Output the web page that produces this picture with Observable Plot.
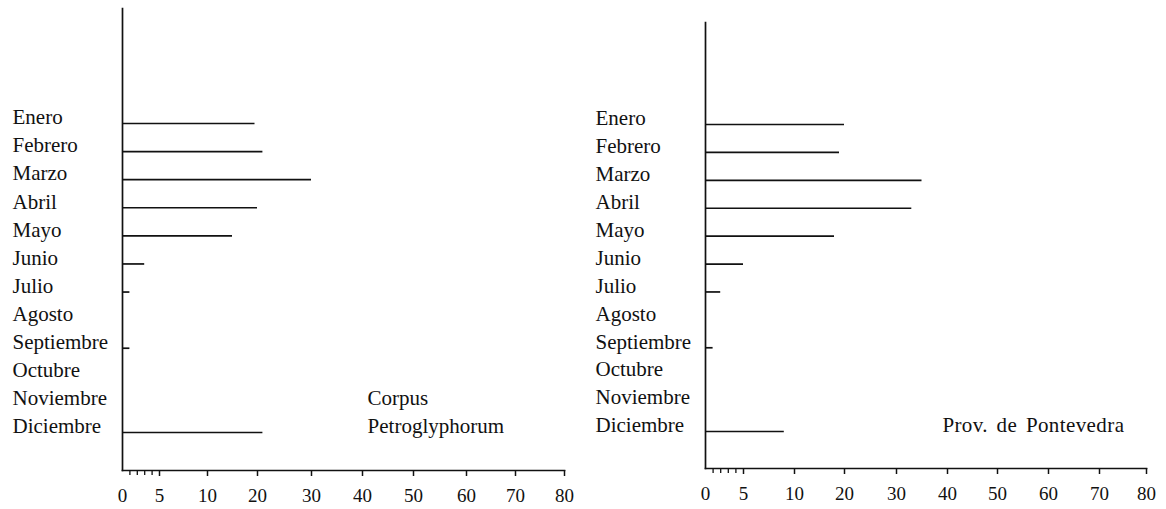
<!DOCTYPE html>
<html>
<head>
<meta charset="utf-8">
<script src="https://cdn.jsdelivr.net/npm/d3@7"></script>
<script src="https://cdn.jsdelivr.net/npm/@observablehq/plot@0.6"></script>
<style>
  body { margin: 0; background: #fff; overflow: hidden; }
  #wrap { display: flex; align-items: flex-start; width: 1166px; height: 509px; }
  #wrap svg { display: block; flex: none; width: 583px; height: 509px; max-width: none !important; }
</style>
</head>
<body>
<div id="wrap"></div>
<script>
const months = ["Enero", "Febrero", "Marzo", "Abril", "Mayo", "Junio", "Julio",
  "Agosto", "Septiembre", "Octubre", "Noviembre", "Diciembre"];
const corpusValues = [19.5, 21, 30, 20, 15, 3, 1, 0, 1, 0, 0, 21];
const pontevedraValues = [20, 19, 35, 33, 18, 5, 2, 0, 1, 0, 0, 9];
const majorTicks = [0, 5, 10, 20, 30, 40, 50, 60, 70, 80];
const minorTicks = [1, 2, 3, 4];
const corpusNote = [
  {text: "Corpus", x: 41, month: "Noviembre"},
  {text: "Petroglyphorum", x: 41, month: "Diciembre"}
];
const pontevedraNote = [
  {text: "Prov. de Pontevedra", x: 39, month: "Diciembre"}
];

function panel({values, notes, xRange, insetTop, insetBottom, marginTop, marginBottom, marginRight}) {
  const data = months.map((m, i) => ({month: m, value: values[i]})).filter(d => d.value > 0);
  const noText = () => "";
  const svg = Plot.plot({
    width: 583,
    height: 509,
    marginLeft: 122,
    marginRight,
    marginTop,
    marginBottom,
    style: {fontFamily: "'Liberation Serif', 'DejaVu Serif', serif", color: "#111", background: "#fff"},
    x: {type: "linear", domain: majorTicks, range: xRange},
    y: {type: "point", domain: months, padding: 0, round: false, insetTop, insetBottom},
    marks: [
      Plot.frame({anchor: "left", stroke: "#111", strokeWidth: 1.7}),
      Plot.frame({anchor: "bottom", stroke: "#111", strokeWidth: 1.7}),
      Plot.ruleY(data, {y: "month", x1: 0, x2: "value", dy: 6, stroke: "#111", strokeWidth: 1.7}),
      Plot.axisY({tickSize: 0, tickPadding: 0, textAnchor: "start", dx: -110, fontSize: 21, fill: "#111", label: null}),
      Plot.axisX({ticks: majorTicks.filter(t => t > 0), tickSize: 6, tickFormat: noText, strokeWidth: 1.5, label: null}),
      Plot.axisX({ticks: majorTicks, tickSize: 0, tickPadding: 18, fontSize: 19, tickFormat: d => String(d), fill: "#111", label: null}),
      Plot.axisX({ticks: minorTicks, tickSize: 5, tickFormat: noText, strokeWidth: 1.3, label: null}),
      Plot.text(notes, {x: "x", y: "month", text: "text", textAnchor: "start", fontSize: 21, fill: "#111"})
    ]
  });
  d3.select(svg).selectAll("text")
    .filter(function() { return this.textContent === "Prov. de Pontevedra"; })
    .attr("word-spacing", "3px")
    .attr("letter-spacing", "0.4px");
  return svg;
}

const wrap = document.getElementById("wrap");
wrap.appendChild(panel({
  values: corpusValues,
  notes: corpusNote,
  xRange: [122, 159, 207, 257, 311, 362, 413, 466, 515, 564],
  insetTop: 109,
  insetBottom: 44,
  marginTop: 8,
  marginBottom: 39,
  marginRight: 19
}));
wrap.appendChild(panel({
  values: pontevedraValues,
  notes: pontevedraNote,
  xRange: [122, 160, 211, 261, 313, 364, 414, 465, 516, 563],
  insetTop: 96,
  insetBottom: 43,
  marginTop: 22,
  marginBottom: 41,
  marginRight: 20
}));
</script>
</body>
</html>
